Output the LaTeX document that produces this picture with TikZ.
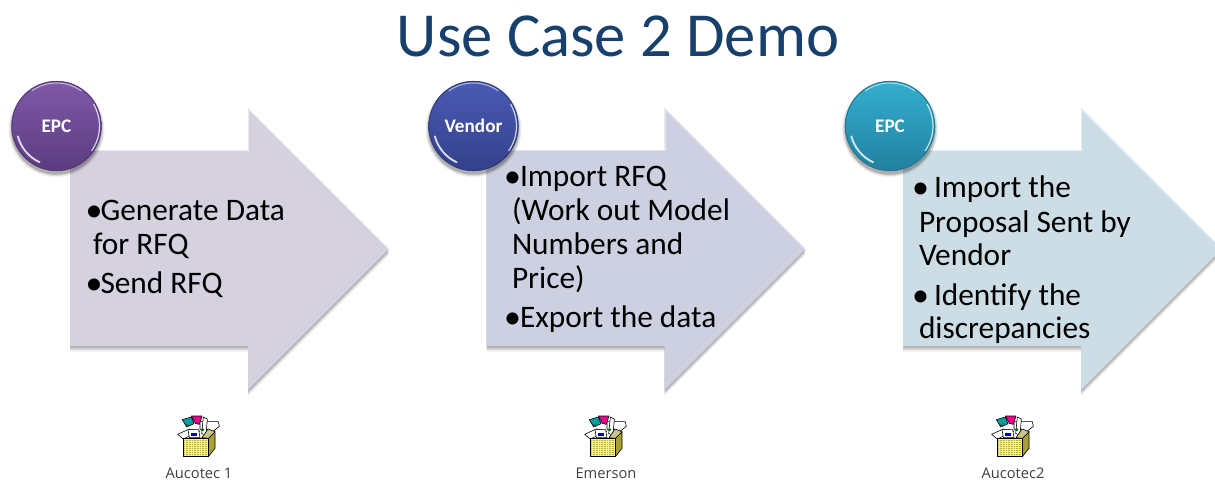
\documentclass[tikz,border=0pt]{standalone}
\usepackage{fontspec}
\setmainfont{Carlito}
\newfontfamily\capfont{Open Sans}
\definecolor{titleblue}{HTML}{17406D}
\definecolor{capgray}{HTML}{404040}
\definecolor{fillA}{HTML}{D6D1DE}\definecolor{edgeA}{HTML}{ECE9F1}
\definecolor{fillB}{HTML}{CDD0E0}\definecolor{edgeB}{HTML}{E6E8F1}
\definecolor{fillC}{HTML}{CDDDE5}\definecolor{edgeC}{HTML}{E6F0F4}
\definecolor{topA}{HTML}{8059A8}\definecolor{botA}{HTML}{5B3C80}
\definecolor{topB}{HTML}{4A5BB5}\definecolor{botB}{HTML}{33408A}
\definecolor{topC}{HTML}{35AFD0}\definecolor{botC}{HTML}{21809F}
\definecolor{boxyellow}{HTML}{F4F08A}
\definecolor{boxside}{HTML}{A8A030}
\tikzset{
  x=0.75pt,y=-0.75pt,
  bodytext/.style={anchor=base west,inner sep=0pt,outer sep=0pt,text=black,font=\fontsize{23.5}{26}\selectfont},
  bulletdot/.style={anchor=base west,inner sep=0pt,outer sep=0pt,text=black,font=\fontsize{25.5}{27}\selectfont},
  badgetext/.style={inner sep=0pt,text=white,font=\fontsize{14.4}{16}\selectfont\bfseries},
  captext/.style={inner sep=0pt,text=capgray,anchor=base,font=\capfont\fontsize{11}{12}\selectfont},
}
% #1 left, #2 fill, #3 light edge
\newcommand{\bigarrow}[3]{%
  \begin{scope}[shift={(#1,0)}]
    \foreach \o/\a in {6/3,5/5,4/6,3/7,2/8,1/9}{
      \fill[black,opacity=0.01*\a] (0,150+\o)--(178,150+\o)--(178,108+\o)--(319,249+\o)--(178,390+\o)--(178,346+\o)--(0,346+\o)--cycle;
    }
    \fill[#2] (0,150)--(178,150)--(178,108)--(319,249)--(178,390)--(178,346)--(0,346)--cycle;
    \draw[#3,line width=1.1pt,line join=miter] (0,150.5)--(178.5,150.5)--(178.5,109.5);
    \draw[#3,line width=0.5pt] (178.5,109.5)--(318.5,249);
  \end{scope}}
% #1 centre x, #2 top, #3 bottom, #4 name, #5 text
\newcommand{\badge}[5]{%
  \begin{scope}[shift={(#1,126)}]
    \foreach \r/\a in {48/6,47/8,46/10,45.5/12}{\fill[black,opacity=0.01*\a] (0,3) circle[radius=\r];}
    \shade[top color=#2,bottom color=#3] (0,0) circle[radius=45];
    \draw[#3!92!black,line width=.7pt] (0,0) circle[radius=44.6];
    \draw[white,opacity=.8,line width=1.4pt,line cap=round] (115:40) arc[start angle=115,end angle=165,radius=40];
    \draw[white,opacity=.55,line width=.8pt,line cap=round] (-125:43) arc[start angle=-125,end angle=-55,radius=43];
    \draw[white,opacity=.75,line width=.9pt,line cap=round] (-30:43) arc[start angle=-30,end angle=35,radius=43];
    \node[badgetext] (#4) at (0,0) {#5};
  \end{scope}}
% #1 left edge of the crop (zoom scale 3)
\newcommand{\pkgicon}[1]{%
  \begin{scope}[shift={(#1,405)},x=0.25pt,y=-0.25pt,line width=.45pt,line join=round]
    \fill[white,draw=black] (83,88)--(118,72)--(150,78)--(100,102)--cycle;
    \fill[white,draw=black] (150,50)--(205,50)--(208,64)--(178,88)--(150,72)--cycle;
    \fill[teal!75!cyan,draw=black] (97,44) -- (124,36) -- (132,56) -- (110,66) -- cycle;
    \fill[black!75] (97,46)--(112,66)--(124,61)--(108,58)--cycle;
    \fill[magenta,draw=black] (124,33)--(156,33)--(148,58)--(136,55)--cycle;
    \fill[white,draw=black] (160,36)--(172,42)--(168,90)--(155,86)--cycle;
    \fill[green!40!black] (158,74) circle[radius=5];
    \fill[white,draw=black] (114,74)--(146,74)--(150,98)--(118,98)--cycle;
    \fill[blue!75!black] (122,84)--(142,84)--(142,94)--(122,94)--cycle;
    \fill[boxyellow] (100,100)--(175,100)--(175,155)--(100,155)--cycle;
    \foreach \yy in {104,110,...,152}{\draw[yellow!70!black,line width=.2pt,dash pattern=on .4pt off .8pt] (102,\yy)--(174,\yy);}
    \fill[boxside,draw=black] (175,100)--(195,80)--(195,130)--(175,155)--cycle;
    \draw[black] (100,100)--(175,100)--(175,155)--(100,155)--cycle;
    \fill[boxside!60!white,draw=black] (175,100)--(195,80)--(174,72)--(156,98)--cycle;
  \end{scope}}
\begin{document}
\begin{tikzpicture}
\useasboundingbox (0,0) rectangle (1215,483);
\fill[white] (0,0) rectangle (1215,483);
\clip (0,0) rectangle (1215,483);
\node[inner sep=0pt,anchor=base,text=titleblue,font=\fontsize{47}{52}\selectfont] (title) at (618,56) {Use Case 2 Demo};

\bigarrow{70}{fillA}{edgeA}
\bigarrow{486.5}{fillB}{edgeB}
\bigarrow{903}{fillC}{edgeC}

\badge{56.5}{topA}{botA}{b1}{EPC}
\badge{473.5}{topB}{botB}{b2}{Vendor}
\badge{890}{topC}{botC}{b3}{EPC}

\node[bulletdot] (a1) at (85.5,221) {•};
\node[bodytext] (a2) at (100.5,220.5) {Generate Data};
\node[bodytext] (a3) at (93,254.5) {for RFQ};
\node[bulletdot] (a4) at (85.5,294) {•};
\node[bodytext] (a5) at (100.5,293.5) {Send RFQ};

\node[bulletdot] (c1) at (504,187) {•};
\node[bodytext] (c2) at (520,186.5) {Import RFQ};
\node[bodytext] (c3) at (512,220.5) {(Work out Model};
\node[bodytext] (c4) at (512,254.5) {Numbers and};
\node[bodytext] (c5) at (512,288.5) {Price)};
\node[bulletdot] (c6) at (504,328) {•};
\node[bodytext] (c7) at (520,327.5) {Export the data};

\node[bulletdot] (d1) at (912,198) {•};
\node[bodytext] (d2) at (934,197.5) {Import the};
\node[bodytext] (d3) at (919,232.5) {Proposal Sent by};
\node[bodytext] (d4) at (919,265.5) {Vendor};
\node[bulletdot] (d5) at (912,306) {•};
\node[bodytext] (d6) at (934,305.5) {Identify the};
\node[bodytext] (d7) at (919,338.5) {discrepancies};

\pkgicon{150}
\pkgicon{557}
\pkgicon{964}
\node[captext] (k1) at (199,478) {Aucotec 1};
\node[captext] (k2) at (606,478) {Emerson};
\node[captext] (k3) at (1013,478) {Aucotec2};
\end{tikzpicture}
\end{document}
